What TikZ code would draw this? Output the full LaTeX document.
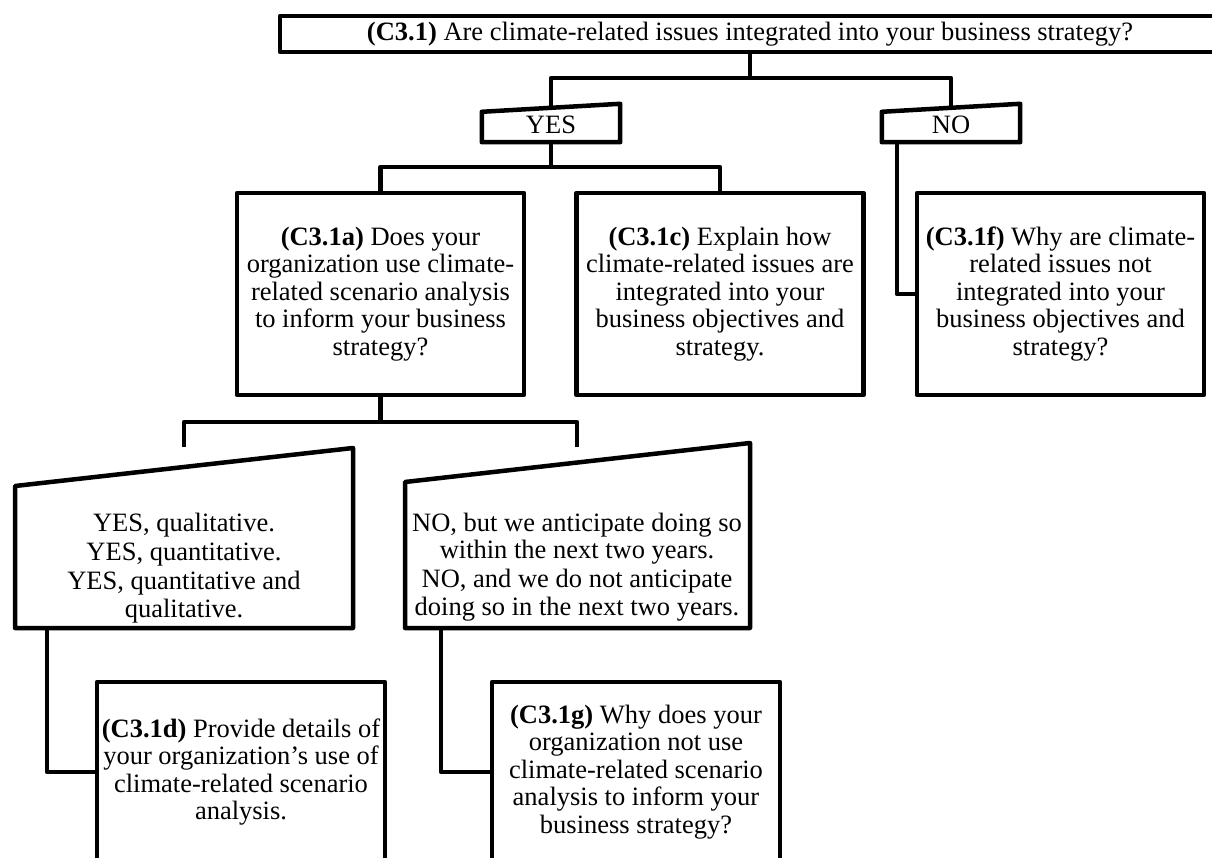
\documentclass[tikz,border=0pt]{standalone}
\usepackage{fontspec}
\setmainfont{Liberation Serif}
\newcommand\myfs{\fontsize{26.5}{27.5}\selectfont}
\begin{document}
\begin{tikzpicture}[x=1pt,y=-1pt,
  ln/.style={line width=4.5pt, line join=round},
  boxn/.style={draw, ln, rectangle, inner sep=0pt, align=center, font=\myfs},
  txt/.style={align=center, inner sep=0pt, font=\myfs},
  hid/.style={rectangle, inner sep=0pt, outer sep=0pt}]
\useasboundingbox (0,0) rectangle (1212,858);

% top question
\node[boxn, minimum width=940pt, minimum height=36pt] (q31) at (750,34)
  {\textbf{(C3.1)} Are climate-related issues integrated into your business strategy?};

% YES / NO answers
\node[txt, minimum width=138pt, minimum height=34pt] (yes) at (551,125) {YES};
\draw[ln] ([yshift=-4pt]yes.north west) -- ([yshift=4pt]yes.north east) -- (yes.south east) -- (yes.south west) -- cycle;
\node[txt, minimum width=138pt, minimum height=34pt] (no) at (951,125) {NO};
\draw[ln] ([yshift=-4pt]no.north west) -- ([yshift=4pt]no.north east) -- (no.south east) -- (no.south west) -- cycle;

\coordinate (j1) at (750,78);
\draw[ln] (q31.south) -- (j1);
\draw[ln] (yes.north) |- (j1) -| (no.north);

% second level boxes
\node[boxn, minimum width=287pt, minimum height=202pt] (q31a) at (380.5,294)
  {\textbf{(C3.1a)} Does your\\organization use climate-\\related scenario analysis\\to inform your business\\strategy?};
\node[boxn, minimum width=287pt, minimum height=202pt] (q31c) at (720,294)
  {\textbf{(C3.1c)} Explain how\\climate-related issues are\\integrated into your\\business objectives and\\strategy.};
\node[boxn, minimum width=287pt, minimum height=202pt] (q31f) at (1060.5,294)
  {\textbf{(C3.1f)} Why are climate-\\related issues not\\integrated into your\\business objectives and\\strategy?};

\coordinate (j2) at (551,167);
\draw[ln] (yes.south) -- (j2);
\draw[ln] (q31a.north) |- (j2) -| (q31c.north);
\draw[ln] ([xshift=15pt]no.south west) |- (q31f.west);

% answers to C3.1a
\node[hid, minimum width=338pt, minimum height=180pt] (yqbox) at (184,538) {};
\draw[ln] (yqbox.south west) -- (yqbox.south east) -- (yqbox.north east) -- ([yshift=-38pt]yqbox.north west) -- cycle;
\node[txt] (yq) at (184,568) {YES, qualitative.\\[1.5pt]YES, quantitative.\\[1.5pt]YES, quantitative and\\qualitative.};

\node[hid, minimum width=345pt, minimum height=185pt] (nqbox) at (577.5,535.5) {};
\draw[ln] (nqbox.south west) -- (nqbox.south east) -- (nqbox.north east) -- ([yshift=-39pt]nqbox.north west) -- cycle;
\node[txt] (nq) at (577,567) {NO, but we anticipate doing so\\within the next two years.\\[1.5pt]NO, and we do not anticipate\\doing so in the next two years.};

\coordinate (j3) at (380.5,422);
\coordinate (e1) at (184,447);
\coordinate (e2) at (577,447);
\draw[ln] (q31a.south) -- (j3);
\draw[ln] (e1) |- (j3) -| (e2);

% third level boxes
\node[boxn, minimum width=288pt, minimum height=180pt] (q31d) at (241,772)
  {\textbf{(C3.1d)} Provide details of\\your organization’s use of\\climate-related scenario\\analysis.};
\node[boxn, minimum width=288pt, minimum height=180pt] (q31g) at (636,772)
  {\textbf{(C3.1g)} Why does your\\organization not use\\climate-related scenario\\analysis to inform your\\business strategy?};

\draw[ln] ([xshift=32pt]yqbox.south west) |- (q31d.west);
\draw[ln] ([xshift=36pt]nqbox.south west) |- (q31g.west);
\end{tikzpicture}
\end{document}
